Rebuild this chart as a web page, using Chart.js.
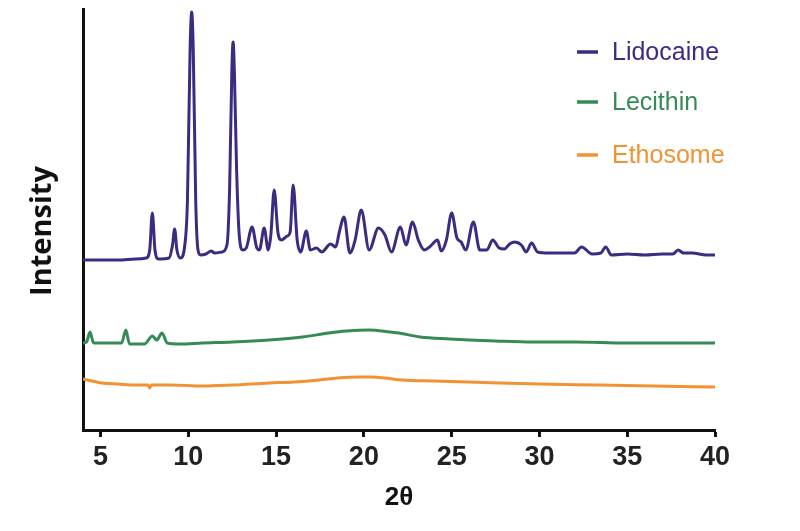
<!DOCTYPE html>
<html>
<head>
<meta charset="utf-8">
<script src="https://cdn.jsdelivr.net/npm/chart.js@4.4.0/dist/chart.umd.min.js"></script>
<style>
  html, body { margin: 0; padding: 0; background: #ffffff; }
  #wrap { width: 800px; height: 531px; }
</style>
</head>
<body>
<div id="wrap"><canvas id="c" width="800" height="531"></canvas></div>
<script>
// ---- data ----
const seriesNames = ['Lidocaine', 'Lecithin', 'Ethosome'];
const xTickValues = [5, 10, 15, 20, 25, 30, 35, 40];
const xTitle = '2\u03B8';
const yTitle = 'Intensity';

const lidocaineX = [4.0, 5.0, 6.0, 7.0, 7.6, 7.8, 7.95, 8.1, 8.3, 8.9, 9.1, 9.22, 9.35, 9.55, 9.8, 9.95, 10.1, 10.19, 10.28, 10.42, 10.55, 10.7, 11.0, 11.3, 11.5, 11.9, 12.2, 12.35, 12.48, 12.55, 12.62, 12.75, 12.9, 13.1, 13.3, 13.63, 13.9, 14.05, 14.32, 14.55, 14.7, 14.89, 15.1, 15.3, 15.63, 15.8, 15.97, 16.2, 16.4, 16.72, 16.95, 17.3, 17.6, 18.1, 18.4, 18.6, 18.87, 19.2, 19.5, 19.85, 20.3, 20.83, 21.2, 21.57, 22.08, 22.4, 22.77, 23.1, 23.45, 23.74, 24.2, 24.4, 24.7, 25.0, 25.3, 25.54, 25.8, 26.24, 26.6, 27.0, 27.34, 27.7, 28.0, 28.3, 28.6, 28.97, 29.25, 29.55, 29.9, 30.5, 31.3, 32.0, 32.4, 33.0, 33.5, 33.77, 34.1, 35.0, 36.0, 37.0, 37.6, 37.9, 38.2, 38.7, 39.5, 40.0];
const lidocaineY = [170, 170, 170, 171, 172, 180, 217, 180, 171, 172, 185, 201, 180, 172, 185, 230, 380, 418, 380, 230, 180, 175, 176, 179, 177, 178, 185, 240, 360, 388, 360, 260, 195, 180, 182, 203, 182, 180, 202, 180, 195, 240, 198, 190, 194, 198, 245, 190, 178, 199, 180, 182, 178, 186, 183, 198, 213, 177, 190, 220, 180, 202, 195, 178, 203, 185, 208, 190, 180, 183, 190, 179, 190, 217, 192, 188, 180, 208, 180, 180, 190, 182, 181, 186, 188, 185, 178, 187, 178, 177, 177, 177, 183, 176, 177, 183, 175, 176, 175, 176, 176, 180, 177, 177, 175, 175];

const lecithinX = [4.0, 4.2, 4.4, 4.6, 5.5, 6.2, 6.44, 6.65, 7.5, 7.95, 8.2, 8.5, 8.8, 9.5, 10.8, 12.5, 14.6, 16.5, 18.0, 19.0, 20.3, 21.5, 22.0, 23.2, 24.9, 26.0, 27.5, 29.6, 32.0, 35.0, 38.0, 40.0];
const lecithinY = [87, 88, 98, 87, 87, 87, 100, 86, 86, 94, 90, 97, 87, 86, 87, 88, 90, 93, 97, 99, 100, 98, 97, 93, 91, 90, 89, 88, 88, 87, 87, 87];

const ethosomeX = [4.0, 4.5, 5.07, 6.0, 7.0, 7.7, 7.8, 7.9, 9.0, 10.8, 12.5, 14.6, 16.0, 17.46, 18.5, 19.7, 20.5, 21.2, 22.2, 24.0, 26.0, 27.7, 30.0, 33.4, 36.5, 40.0];
const ethosomeY = [51, 49, 47, 46, 45, 45, 42, 45, 45, 44, 45, 47, 48, 50, 52, 53, 53, 52, 50, 49, 48, 47, 46, 45, 44, 43];

const seriesColors = ['#3d2b82', '#368a56', '#f29333'];

function toPoints(xs, ys) { return xs.map((x, i) => ({ x: x, y: ys[i] })); }

// ---- custom legend + y title ----
const overlayPlugin = {
  id: 'overlay',
  afterDraw(chart) {
    const ctx = chart.ctx;
    ctx.save();
    const lx = 577, tx = 612, rows = [52, 102, 155];
    chart.data.datasets.forEach((ds, i) => {
      ctx.strokeStyle = ds.borderColor;
      ctx.lineWidth = 3.5;
      ctx.beginPath();
      ctx.moveTo(lx, rows[i]);
      ctx.lineTo(lx + 21, rows[i]);
      ctx.stroke();
      ctx.fillStyle = ds.borderColor;
      ctx.font = '25px "Liberation Sans", Arial, sans-serif';
      ctx.textBaseline = 'middle';
      ctx.textAlign = 'left';
      ctx.fillText(ds.label, tx, rows[i] + 1);
    });
    ctx.translate(43, 231);
    ctx.rotate(-Math.PI / 2);
    ctx.fillStyle = '#111';
    ctx.font = 'bold 29px "Open Sans", "DejaVu Sans", sans-serif';
    ctx.textAlign = 'center';
    ctx.textBaseline = 'middle';
    ctx.fillText(yTitle, 0, 0);
    ctx.restore();
  }
};

const ds = [
  { label: seriesNames[0], data: toPoints(lidocaineX, lidocaineY), borderColor: seriesColors[0] },
  { label: seriesNames[1], data: toPoints(lecithinX, lecithinY), borderColor: seriesColors[1] },
  { label: seriesNames[2], data: toPoints(ethosomeX, ethosomeY), borderColor: seriesColors[2] }
].map(d => Object.assign(d, {
  borderWidth: 3,
  pointRadius: 0,
  fill: false,
  cubicInterpolationMode: 'monotone',
  backgroundColor: d.borderColor
}));

new Chart(document.getElementById('c'), {
  type: 'line',
  data: { datasets: ds },
  options: {
    responsive: false,
    animation: false,
    devicePixelRatio: 1,
    layout: { padding: { left: 0, right: 85, top: 9, bottom: 0 } },
    plugins: { legend: { display: false }, tooltip: { enabled: false } },
    scales: {
      x: {
        type: 'linear',
        min: 4,
        max: 40,
        afterBuildTicks: s => { s.ticks = xTickValues.map(v => ({ value: v })); },
        afterFit: s => { s.height = 101; },
        border: { display: true, color: '#111', width: 3 },
        grid: { display: true, drawOnChartArea: false, drawTicks: true, tickLength: 7, tickWidth: 3, tickColor: '#111' },
        ticks: {
          color: '#222',
          padding: 4,
          maxRotation: 0,
          autoSkip: false,
          font: { family: '"Liberation Sans Narrow", "Liberation Sans", Arial, sans-serif', size: 27, weight: 'bold' }
        },
        title: {
          display: true,
          text: xTitle,
          color: '#111',
          padding: { top: 0, bottom: 20 },
          font: { family: '"Liberation Sans", Arial, sans-serif', size: 26, weight: 'bold', lineHeight: 1 }
        }
      },
      y: {
        type: 'linear',
        min: 0,
        max: 421,
        afterFit: s => { s.width = 83; },
        border: { display: true, color: '#111', width: 3 },
        grid: { display: false },
        ticks: { display: false },
        title: { display: false }
      }
    }
  },
  plugins: [overlayPlugin]
});
</script>
</body>
</html>
